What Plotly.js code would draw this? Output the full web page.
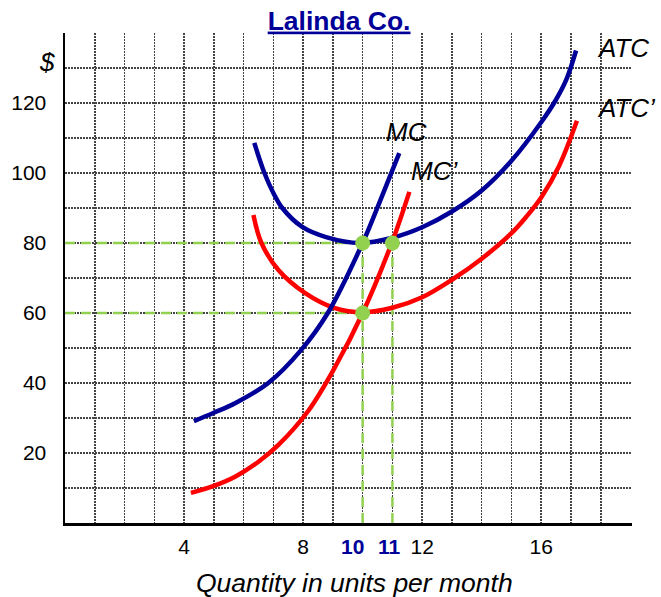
<!DOCTYPE html>
<html>
<head>
<meta charset="utf-8">
<script src="https://cdn.plot.ly/plotly-3.0.1.min.js"></script>
<style>html,body{margin:0;padding:0;background:#fff;}#chart{width:661px;height:597px;}</style>
</head>
<body>
<div id="chart"></div>
<script>
// ---- data ----
const atcQ    = [6.36, 6.7, 7.0, 7.3, 7.97, 8.77, 9.9, 11, 12, 13, 14, 15, 16, 16.5, 16.85, 17.17];
const atcCost = [108.6, 100, 94.3, 90, 84.6, 81.7, 80, 81.5, 84.5, 89, 95, 103.5, 114.5, 121, 126.8, 135];

const atc2Q    = [6.33, 6.6, 7.17, 8.07, 9.07, 10, 11, 12, 13, 14, 15, 15.5, 16, 16.6, 17.2];
const atc2Cost = [88, 80, 72.3, 65.7, 61.4, 60.2, 61.5, 64.5, 69.5, 75.5, 82.8, 87.5, 93, 102, 114.9];

const mcQ    = [4.33, 5.0, 5.73, 6.83, 7.93, 8.83, 10, 10.5, 11.23];
const mcCost = [29.1, 31.5, 34.3, 40, 49.4, 60, 80, 90.2, 105.7];

const mc2Q    = [4.23, 5.0, 5.73, 6.5, 7.17, 8.17, 9.07, 10, 11, 11.57];
const mc2Cost = [8.6, 10.6, 13.3, 17.5, 22.3, 32, 44.5, 60, 80.5, 94.6];

const eqQ = [10, 11, 10];
const eqP = [80, 80, 60];

const xLabelVals = [4, 8, 12, 16];
const xHighlight = [10, 11];
const yLabelVals = [20, 40, 60, 80, 100, 120];

const curveNames = ['ATC', 'ATC’', 'MC', 'MC’'];

// ---- build ----
const FONT = 'Liberation Sans, Arial, sans-serif';
const BLUE = '#000099', RED = '#ff0000', GREEN = '#92d050';

const xGrid = [], xText = [];
for (let i = 1; i <= 18; i++) { xGrid.push(i); xText.push(xLabelVals.includes(i) ? String(i) : ''); }
const yGrid = [], yText = [];
for (let v = 10; v <= 130; v += 10) { yGrid.push(v); yText.push(yLabelVals.includes(v) ? String(v) : ''); }

// guide lines from equilibrium points
const gx = [], gy = [];
[eqP[0], eqP[2]].forEach(p => { gx.push(0, eqQ[0], null); gy.push(p, p, null); });
[eqQ[0], eqQ[1]].forEach(q => { gx.push(q, q, null); gy.push(0, eqP[0], null); });

const traces = [
  {x: gx, y: gy, mode: 'lines', line: {color: GREEN, width: 2.5, dash: '10px,6px'}, hoverinfo: 'skip'},
  {x: atcQ, y: atcCost, mode: 'lines', line: {color: BLUE, width: 4.5, shape: 'spline', smoothing: 1}, name: curveNames[0]},
  {x: atc2Q, y: atc2Cost, mode: 'lines', line: {color: RED, width: 4.5, shape: 'spline', smoothing: 1}, name: curveNames[1]},
  {x: mcQ, y: mcCost, mode: 'lines', line: {color: BLUE, width: 4.5, shape: 'spline', smoothing: 1}, name: curveNames[2]},
  {x: mc2Q, y: mc2Cost, mode: 'lines', line: {color: RED, width: 4.5, shape: 'spline', smoothing: 1}, name: curveNames[3]},
  {x: eqQ, y: eqP, mode: 'markers', marker: {color: GREEN, size: 15}, hoverinfo: 'skip'}
];

const annotations = [
  {text: '<i>' + curveNames[0] + '</i>', x: 17.82, y: 135.7},
  {text: '<i>' + curveNames[1] + '</i>', x: 17.82, y: 118.6},
  {text: '<i>' + curveNames[2] + '</i>', x: 10.72, y: 111.7},
  {text: '<i>' + curveNames[3] + '</i>', x: 11.55, y: 100.6}
].map(a => Object.assign({xref: 'x', yref: 'y', xanchor: 'left', yanchor: 'middle', showarrow: false,
  font: {family: FONT, size: 26, color: '#000'}}, a));

annotations.push({text: '<i>$</i>', xref: 'paper', yref: 'paper', x: -0.032, y: 0.941,
  xanchor: 'center', yanchor: 'middle', showarrow: false, font: {family: FONT, size: 26, color: '#000'}});
annotations.push({text: '<i>Quantity in units per month</i>', xref: 'paper', yref: 'paper',
  x: 0.51, y: -0.122, xanchor: 'center', yanchor: 'middle', showarrow: false,
  font: {family: FONT, size: 26.5, color: '#000'}});
xHighlight.forEach((q, i) => annotations.push({
  text: '<b>' + q + '</b>', xref: 'x', yref: 'paper', x: q, y: -0.047, xanchor: 'center', yanchor: 'middle',
  xshift: i === 0 ? -10 : -3, showarrow: false, font: {family: FONT, size: 21, color: BLUE}}));

const layout = {
  width: 661, height: 597,
  margin: {l: 65, r: 29, t: 33, b: 74},
  paper_bgcolor: '#fff', plot_bgcolor: '#fff',
  showlegend: false,
  font: {family: FONT, size: 21, color: '#000'},
  title: {text: '<b><u>Lalinda Co.</u></b>', font: {family: FONT, size: 26.5, color: BLUE},
    xref: 'container', yref: 'container', x: 0.513, y: 0.966, xanchor: 'center', yanchor: 'middle'},
  xaxis: {range: [0, 19.05], tickvals: xGrid, ticktext: xText, ticks: '', ticklabelstandoff: 3,
    showgrid: true, gridcolor: '#444', gridwidth: 1.5, griddash: '2px,1px',
    zeroline: false, showline: true, linecolor: '#000', linewidth: 2.5,
    tickfont: {family: FONT, size: 21, color: '#000'}, fixedrange: true},
  yaxis: {range: [0, 140], tickvals: yGrid, ticktext: yText, ticks: '', ticklabelstandoff: 12,
    showgrid: true, gridcolor: '#444', gridwidth: 1.5, griddash: '2px,1px',
    zeroline: false, showline: true, linecolor: '#000', linewidth: 2.5,
    tickfont: {family: FONT, size: 21, color: '#000'}, fixedrange: true},
  annotations: annotations
};

Plotly.newPlot('chart', traces, layout, {displayModeBar: false, staticPlot: true});
</script>
</body>
</html>
